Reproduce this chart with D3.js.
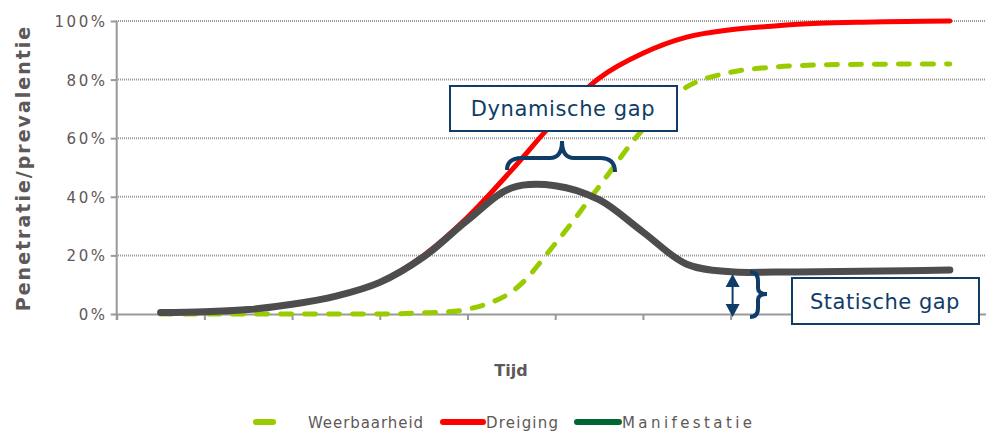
<!DOCTYPE html>
<html>
<head>
<meta charset="utf-8">
<script src="https://cdn.jsdelivr.net/npm/d3@7"></script>
<style>
  body { margin: 0; background: #fff; }
  text { font-family: "DejaVu Sans", Verdana, sans-serif; }
</style>
</head>
<body>
<svg id="chart"></svg>
<script>
// time steps (half category steps, no labels on the axis)
const timePoints = [0, 0.5, 1, 1.5, 2, 2.5, 3, 3.5, 4, 4.5, 5, 5.5, 6, 6.5, 7, 7.5, 8, 8.5, 9];
const weerbaarheid = [0, 0, 0, 0, 0, 0, 0.4, 1.6, 7.5, 24, 43.5, 63, 77.5, 82.5, 84.3, 85, 85.2, 85.3, 85.3];
const dreiging = [0.5, 0.8, 1.5, 3.3, 6.2, 10.8, 20, 33, 49, 66, 80.5, 89, 94.5, 97, 98.3, 99.2, 99.6, 99.8, 100];
const manifestatie = [0.5, 0.8, 1.5, 3.3, 6.1, 10.8, 19.5, 32, 43, 43.8, 39, 28, 17, 14.4, 14.3, 14.4, 14.6, 14.8, 15];
const yTicks = [0, 20, 40, 60, 80, 100];
const xBoundaries = [-0.5, 0.5, 1.5, 2.5, 3.5, 4.5, 5.5, 6.5, 7.5, 8.5, 9.5];
const legendItems = [
  { name: "Weerbaarheid", color: "#99cc00" },
  { name: "Dreiging", color: "#ff0000" },
  { name: "Manifestatie", color: "#006633" }
];

const width = 986;
const height = 432;
const navy = "#0f3d68";
const textColor = "#5e5858";

const svg = d3.select("#chart").attr("width", width).attr("height", height);

const xScale = d3.scaleLinear().domain([-0.5, 9.5]).range([116.7, 993.7]);
const yScale = d3.scaleLinear().domain([0, 100]).range([314, 21]);

// grid lines
svg.append("g")
  .selectAll("line")
  .data(yTicks.filter(d => d > 0))
  .enter()
  .append("line")
  .attr("x1", 116)
  .attr("x2", width)
  .attr("y1", d => yScale(d))
  .attr("y2", d => yScale(d))
  .attr("stroke", "#9a9a9a")
  .attr("stroke-width", 2)
  .attr("stroke-dasharray", "1,1");

// y axis
const yAxis = svg.append("g")
  .attr("transform", "translate(116.7,0)")
  .call(d3.axisLeft(yScale).tickValues(yTicks).tickSize(6).tickSizeOuter(0).tickFormat(d => d + "%"));
yAxis.select(".domain").attr("stroke", "#999").attr("stroke-width", 2).attr("d", "M0,21V320");
yAxis.selectAll(".tick line").attr("stroke", "#999").attr("stroke-width", 2);
yAxis.selectAll(".tick text")
  .attr("x", -9)
  .attr("dy", "0.36em")
  .attr("fill", textColor)
  .style("font-size", "15px")
  .style("letter-spacing", "2.6px");

// x axis
const xAxis = svg.append("g")
  .attr("transform", "translate(0,314)")
  .call(d3.axisBottom(xScale).tickValues(xBoundaries).tickSize(6).tickSizeOuter(0).tickFormat(""));
xAxis.select(".domain").attr("stroke", "#999").attr("stroke-width", 2);
xAxis.selectAll(".tick line").attr("stroke", "#999").attr("stroke-width", 2);

// axis titles
svg.append("text")
  .attr("transform", "translate(30,168) rotate(-90)")
  .attr("text-anchor", "middle")
  .attr("fill", textColor)
  .style("font-size", "19px")
  .style("font-weight", "bold")
  .style("letter-spacing", "2px")
  .text("Penetratie/prevalentie");

svg.append("text")
  .attr("x", 511)
  .attr("y", 376)
  .attr("text-anchor", "middle")
  .attr("fill", textColor)
  .style("font-size", "16px")
  .style("font-weight", "bold")
  .text("Tijd");

// series
const line = values => d3.line()
  .x((_, i) => xScale(timePoints[i]))
  .y(d => yScale(d))
  .curve(d3.curveCatmullRom.alpha(0.5))(values);

svg.append("path")
  .attr("d", line(dreiging))
  .attr("fill", "none")
  .attr("stroke", "#ff0000")
  .attr("stroke-width", 5)
  .attr("stroke-linecap", "round");

svg.append("path")
  .attr("d", line(weerbaarheid))
  .attr("fill", "none")
  .attr("stroke", "#99cc00")
  .attr("stroke-width", 5)
  .attr("stroke-linecap", "round")
  .attr("stroke-dasharray", "11,13");

svg.append("path")
  .attr("d", line(manifestatie))
  .attr("fill", "none")
  .attr("stroke", "#4d4d4d")
  .attr("stroke-width", 7)
  .attr("stroke-linecap", "round");

// dynamische gap annotation
svg.append("path")
  .attr("d", "M507,170 Q507,158 522,158 L550,158 Q562,158 562,141 Q562,158 574,158 L600,158 Q615,158 615,172")
  .attr("fill", "none")
  .attr("stroke", navy)
  .attr("stroke-width", 4);

svg.append("rect")
  .attr("x", 450).attr("y", 86)
  .attr("width", 227).attr("height", 45)
  .attr("fill", "#fff")
  .attr("stroke", navy)
  .attr("stroke-width", 2);

svg.append("text")
  .attr("x", 563).attr("y", 116)
  .attr("text-anchor", "middle")
  .attr("fill", navy)
  .style("font-size", "21px")
  .style("letter-spacing", "0.6px")
  .text("Dynamische gap");

// statische gap annotation
const arrowX = xScale(6.5) + 2;
svg.append("line")
  .attr("x1", arrowX).attr("x2", arrowX)
  .attr("y1", 282).attr("y2", 310)
  .attr("stroke", navy).attr("stroke-width", 2);
svg.append("path")
  .attr("d", `M${arrowX},274 L${arrowX - 7},287 L${arrowX + 7},287 Z M${arrowX},317 L${arrowX - 7},304 L${arrowX + 7},304 Z`)
  .attr("fill", navy);

svg.append("path")
  .attr("d", "M750,272 Q758,272 758,281 L758,288 Q758,294 767,294 Q758,294 758,300 L758,308 Q758,317 750,317")
  .attr("fill", "none")
  .attr("stroke", navy)
  .attr("stroke-width", 4);

svg.append("rect")
  .attr("x", 792).attr("y", 278)
  .attr("width", 187).attr("height", 46)
  .attr("fill", "#fff")
  .attr("stroke", navy)
  .attr("stroke-width", 2);

svg.append("text")
  .attr("x", 885).attr("y", 309)
  .attr("text-anchor", "middle")
  .attr("fill", navy)
  .style("font-size", "21px")
  .style("letter-spacing", "0.5px")
  .text("Statische gap");

// legend
const legendPos = [
  { lx1: 256, lx2: 273, tx: 308, len: 115 },
  { lx1: 443, lx2: 483, tx: 486, len: 72 },
  { lx1: 577, lx2: 619, tx: 622, len: 130 }
];
const legend = svg.append("g");
legendItems.forEach((item, i) => {
  const p = legendPos[i];
  legend.append("line")
    .attr("x1", p.lx1).attr("x2", p.lx2)
    .attr("y1", 422).attr("y2", 422)
    .attr("stroke", item.color)
    .attr("stroke-width", 6)
    .attr("stroke-linecap", "round");
  legend.append("text")
    .attr("x", p.tx).attr("y", 428)
    .attr("fill", textColor)
    .attr("textLength", p.len)
    .style("font-size", "15px")
    .text(item.name);
});
</script>
</body>
</html>
